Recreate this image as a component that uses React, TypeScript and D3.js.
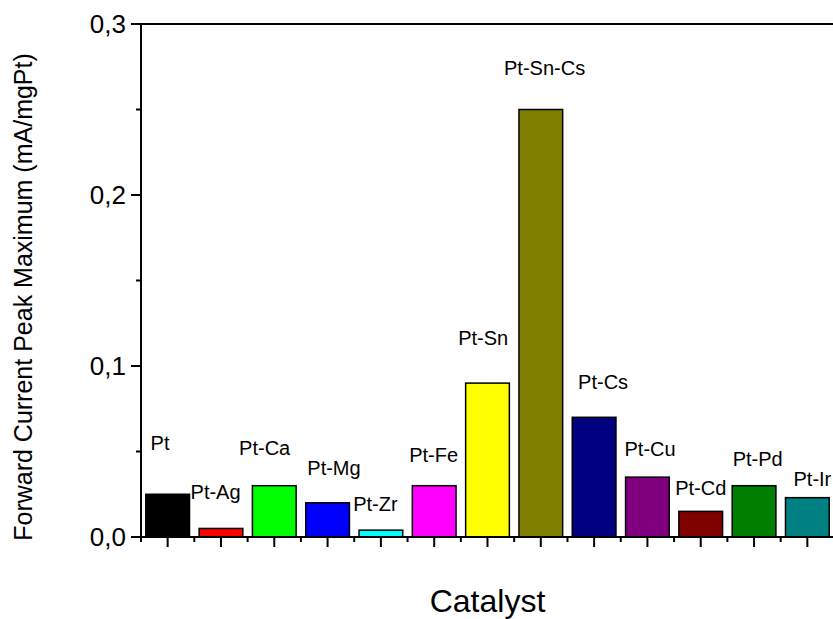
import React from 'react';
import * as d3 from 'd3';

// catalyst names, peak maximum (mA/mgPt) and bar colours
const catalysts = ['Pt', 'Pt-Ag', 'Pt-Ca', 'Pt-Mg', 'Pt-Zr', 'Pt-Fe', 'Pt-Sn', 'Pt-Sn-Cs', 'Pt-Cs', 'Pt-Cu', 'Pt-Cd', 'Pt-Pd', 'Pt-Ir'];
const peakValues = [0.025, 0.005, 0.03, 0.02, 0.004, 0.03, 0.09, 0.25, 0.07, 0.035, 0.015, 0.03, 0.023];
const barColors = ['#000000', '#ff0000', '#00ff00', '#0000ff', '#00ffff', '#ff00ff', '#ffff00', '#808000', '#000080', '#800080', '#800000', '#008000', '#008080'];
const yTicks = [0, 0.1, 0.2, 0.3];
const yTickLabels = ['0,0', '0,1', '0,2', '0,3'];

// where the hand-placed labels sit (value units, and shift in bands)
const labelLevel = [0.051, 0.022, 0.048, 0.036, 0.015, 0.044, 0.112, 0.27, 0.0865, 0.0474, 0.0246, 0.0415, 0.0298];
const labelShift = [0.18, -0.07, -0.16, 0.12, -0.02, 0.03, -0.05, -0.19, 0.2, 0.07, 0.02, 0.1, 0.24];

const font = 'Arial, "Liberation Sans", Helvetica, sans-serif';

export default function App() {
  const width = 833, height = 619;
  const left = 141, right = 834, top = 24, bottom = 537;

  const x = d3.scaleBand().domain(catalysts).range([left, right]).padding(0);
  const y = d3.scaleLinear().domain([0, 0.3]).range([bottom, top]);
  const bw = x.bandwidth();
  const barW = bw * 0.82;
  const minorY = d3.range(0.05, 0.3, 0.1);

  return (
    <svg width={width} height={height} style={{ position: 'absolute', left: 0, top: 0 }} fontFamily={font}>
      <rect width={width} height={height} fill="#fff" />
      {catalysts.map((c, i) => (
        <rect key={c} x={x(c)! + (bw - barW) / 2} y={y(peakValues[i])} width={barW}
          height={y(0) - y(peakValues[i])} fill={barColors[i]} stroke="#000" strokeWidth={1.5} />
      ))}
      {catalysts.map((c, i) => (
        <text key={'l' + c} x={x(c)! + labelShift[i] * bw} y={y(labelLevel[i])} fontSize={20} fill="#000">{c}</text>
      ))}

      {/* frame: top line and y axis */}
      <line x1={left} x2={right} y1={top} y2={top} stroke="#000" strokeWidth={2} />
      <line x1={left} x2={left} y1={top - 1} y2={bottom} stroke="#000" strokeWidth={2} />
      <line x1={left - 10} x2={right} y1={bottom} y2={bottom} stroke="#000" strokeWidth={2} />

      {yTicks.map((t, i) => (
        <g key={'yt' + t}>
          <line x1={left - 10} x2={left} y1={y(t)} y2={y(t)} stroke="#000" strokeWidth={2} />
          <text x={left - 15} y={y(t)} dy="0.36em" textAnchor="end" fontSize={26}>{yTickLabels[i]}</text>
        </g>
      ))}
      {minorY.map(t => (
        <line key={'ym' + t} x1={left - 5} x2={left} y1={y(t)} y2={y(t)} stroke="#000" strokeWidth={2} />
      ))}

      {catalysts.map(c => (
        <g key={'xt' + c}>
          <line x1={x(c)! + bw / 2} x2={x(c)! + bw / 2} y1={bottom} y2={bottom + 10} stroke="#000" strokeWidth={2} />
          <line x1={x(c)!} x2={x(c)!} y1={bottom} y2={bottom + 5} stroke="#000" strokeWidth={2} />
        </g>
      ))}

      <text x={(left + right) / 2} y={612} textAnchor="middle" fontSize={32}>Catalyst</text>
      <text transform={`translate(32,${297}) rotate(-90)`} textAnchor="middle" fontSize={25}>
        Forward Current Peak Maximum (mA/mgPt)
      </text>
    </svg>
  );
}
